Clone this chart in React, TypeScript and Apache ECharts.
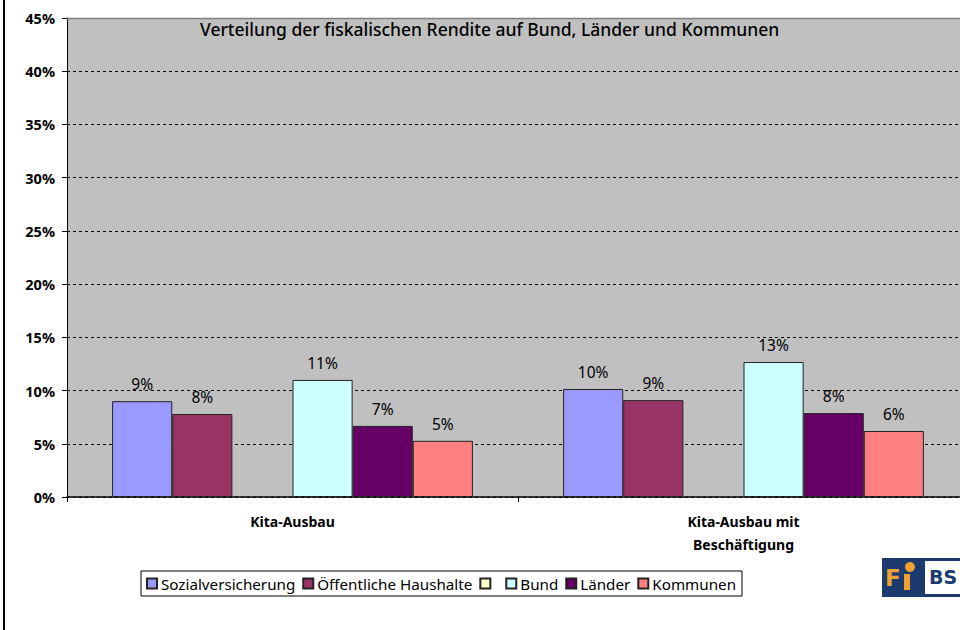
import React, { useEffect, useRef } from "react";
import * as echarts from "echarts";

const categories = ["Kita-Ausbau", "Kita-Ausbau mit\nBeschäftigung"];
const seriesNames = ["Sozialversicherung", "Öffentliche Haushalte", " ", "Bund", "Länder", "Kommunen"];
const sozialversicherung = [9.0, 10.15];
const oeffentlicheHaushalte = [7.8, 9.1];
const leer: (number | null)[] = [null, null];
const bund = [11.0, 12.68];
const laender = [6.68, 7.88];
const kommunen = [5.28, 6.2];
const seriesValues = [sozialversicherung, oeffentlicheHaushalte, leer, bund, laender, kommunen];
const seriesColors = ["#9999FF", "#993366", "#FFFFCC", "#CCFFFF", "#660066", "#FF8080"];
const yTicks = [0, 5, 10, 15, 20, 25, 30, 35, 40, 45];
const title = "Verteilung der fiskalischen Rendite auf Bund, Länder und Kommunen";

const FONT = "Noto Sans";

export default function App() {
  const ref = useRef<HTMLDivElement>(null);
  useEffect(() => {
    if (!ref.current) return;
    const chart = echarts.init(ref.current, null, { renderer: "svg" });
    const option: any = {
      animation: false,
      backgroundColor: "#ffffff",
      textStyle: { fontFamily: FONT },
      grid: {
        left: 67,
        top: 18,
        right: 11,
        height: 479,
        show: true,
        backgroundColor: "#C0C0C0",
        borderWidth: 0,
      },
      legend: {
        left: 141,
        top: 571,
        orient: "horizontal",
        itemWidth: 10,
        itemHeight: 10,
        itemGap: 7,
        icon: "rect",
        backgroundColor: "#ffffff",
        borderColor: "#000000",
        borderWidth: 1,
        padding: [5, 6, 5, 5],
        data: seriesNames,
        textStyle: { fontFamily: FONT, fontSize: 15.2, color: "#000", padding: [0, 0, 0, -1] },
        selectedMode: false,
      },
      xAxis: {
        type: "category",
        data: categories,
        axisLine: { lineStyle: { color: "#000", width: 1.5 } },
        axisTick: { show: true, length: 5, alignWithLabel: false, lineStyle: { color: "#000" } },
        axisLabel: {
          fontFamily: FONT,
          fontWeight: "bold",
          fontSize: 14,
          color: "#000",
          margin: 13,
          lineHeight: 23,
        },
        splitLine: { show: false },
      },
      yAxis: {
        type: "value",
        min: 0,
        max: 45,
        interval: 5,
        axisLine: { show: true, lineStyle: { color: "#000", width: 1 } },
        axisTick: { show: true, length: 5, inside: false, lineStyle: { color: "#000" } },
        axisLabel: {
          fontFamily: FONT,
          fontWeight: "bold",
          fontSize: 14.5,
          color: "#000",
          margin: 12,
          formatter: (v: number) => (yTicks.includes(v) ? `${v}%` : ""),
        },
        splitLine: { show: true, lineStyle: { color: "#000", type: [3, 3], width: 1 } },
      },
      series: seriesNames.map((name, i) => ({
        name,
        type: "bar",
        data: seriesValues[i],
        barGap: "0%",
        barCategoryGap: "20%",
        itemStyle: { color: seriesColors[i], borderColor: "#222222", borderWidth: 1 },
        label: {
          show: i !== 2,
          position: "top",
          distance: 9,
          fontFamily: FONT,
          fontSize: 15.5,
          color: "#000",
          formatter: (p: any) => `${Math.round(p.value)}%`,
        },
      })),
      graphic: [
        {
          type: "line",
          shape: { x1: 67, y1: 18.5, x2: 969, y2: 18.5 },
          style: { stroke: "#808080", lineWidth: 1.5 },
          z: 100,
        },
        {
          type: "rect",
          shape: { x: 3, y: 0, width: 2, height: 630 },
          style: { fill: "#000" },
        },
        {
          type: "text",
          left: 200,
          top: 20,
          style: { text: title, fontFamily: FONT, fontSize: 17.5, fontWeight: 500, fill: "#000" },
          z: 100,
        },
        {
          type: "group",
          left: 882,
          top: 558,
          children: [
            { type: "rect", shape: { x: 0, y: 0, width: 80, height: 39 }, style: { fill: "#1c3a6e" } },
            { type: "rect", shape: { x: 43, y: 3, width: 40, height: 33 }, style: { fill: "#ffffff" } },
            {
              type: "text",
              x: 3,
              y: 8,
              style: { text: "F", fontFamily: "DejaVu Sans", fontWeight: "bold", fontSize: 23, fill: "#f0a030" },
            },
            {
              type: "rect",
              shape: { x: 22, y: 16, width: 6, height: 16 },
              style: { fill: "#f0a030" },
            },
            { type: "circle", shape: { cx: 28, cy: 9, r: 5 }, style: { fill: "#f0a030" } },
            {
              type: "text",
              x: 47,
              y: 9,
              style: { text: "BS", fontFamily: "DejaVu Sans", fontWeight: "bold", fontSize: 19, fill: "#1c3a6e" },
            },
          ],
        },
      ],
    };
    chart.setOption(option);
    return () => chart.dispose();
  }, []);
  return (
    <div style={{ position: "fixed", left: 0, top: 0, width: 960, height: 630, overflow: "hidden", background: "#fff" }}>
      <div ref={ref} style={{ width: 980, height: 630 }} />
    </div>
  );
}
